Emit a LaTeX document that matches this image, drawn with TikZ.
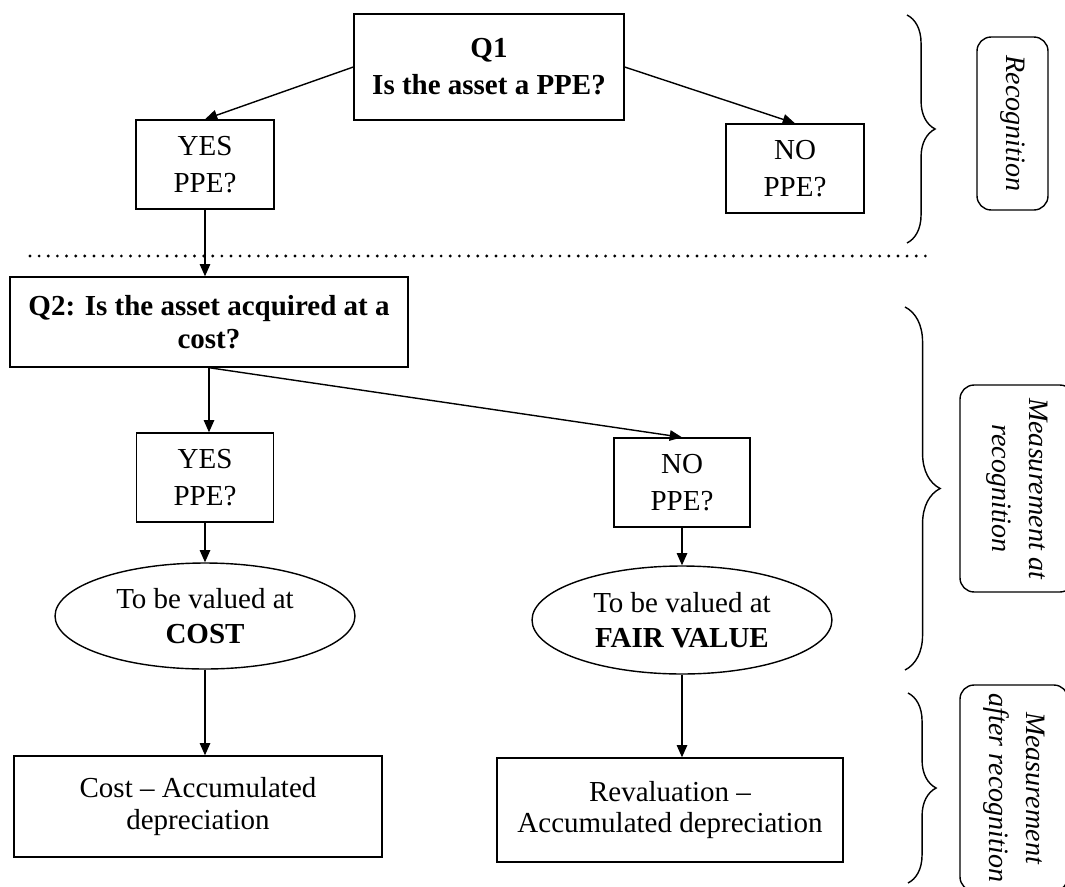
\documentclass[tikz,border=0pt]{standalone}
\usepackage{fontspec}
\setmainfont{Liberation Serif}
\usetikzlibrary{arrows.meta,positioning,shapes.geometric,decorations.pathreplacing,calc}

\begin{document}
\begin{tikzpicture}[
  x=0.02cm, y=-0.02cm,
  box/.style={draw, line width=0.8pt, align=center, inner sep=0pt, font=\fontsize{16.5}{21}\selectfont},
  qbox/.style={box, font=\fontsize{16.5}{19}\selectfont\bfseries},
  res/.style={box, font=\fontsize{16.5}{18}\selectfont},
  val/.style={draw, ellipse, line width=0.8pt, align=center, inner sep=0pt, font=\fontsize{16.5}{20}\selectfont},
  tag/.style={draw, rounded corners=8pt, line width=0.8pt, rotate=-90, align=center, inner sep=0pt, font=\fontsize{16}{21}\selectfont\itshape},
  arrow/.style={-{Triangle[length=7pt,width=6pt]}, line width=0.8pt},
  curly/.style={decorate, decoration={brace, amplitude=#1}, line width=0.8pt},
]
  \clip (0,0) rectangle (1065,886);

  % recognition
  \node[qbox, font=\fontsize{16.5}{21}\selectfont\bfseries, minimum width=5.4cm, minimum height=2.12cm] (q1) at (489,67) {Q1\\Is the asset a PPE?};
  \node[box, minimum width=2.76cm, minimum height=1.78cm] (yes1) at (205,164.5) {YES\\PPE?};
  \node[box, minimum width=2.76cm, minimum height=1.78cm] (no1) at (795,168.5) {NO\\PPE?};

  \draw[line width=1.8pt, line cap=round, dash pattern=on 0pt off 5.2pt] (30,256) -- (930,256);

  % measurement at recognition
  \node[qbox, minimum width=7.96cm, minimum height=1.8cm] (q2) at (209,322) {Q2: Is the asset acquired at a\\cost?};
  \node[box, minimum width=2.74cm, minimum height=1.78cm] (yes2) at (205,477.5) {YES\\PPE?};
  \node[box, minimum width=2.72cm, minimum height=1.78cm] (no2) at (682,482.5) {NO\\PPE?};
  \node[val, minimum width=6cm, minimum height=2.12cm] (ell1) at (205,616) {To be valued at\\\textbf{COST}};
  \node[val, minimum width=6cm, minimum height=2.16cm] (ell2) at (682,620) {To be valued at\\\textbf{FAIR VALUE}};

  % measurement after recognition
  \node[res, minimum width=7.36cm, minimum height=2.02cm] (res1) at (198,806.5) {Cost -- Accumulated\\depreciation};
  \node[res, minimum width=6.92cm, minimum height=2.08cm] (res2) at (670,810) {Revaluation --\\Accumulated depreciation};

  \draw[arrow] (q1.west) -- (yes1.north);
  \draw[arrow] (q1.east) -- (no1.north);
  \draw[arrow] (yes1.south) -- (yes1.south |- q2.north);
  \draw[arrow] (q2.south) -- (q2.south |- yes2.north);
  \draw[arrow] (q2.south) -- (no2.north);
  \draw[arrow] (yes2.south) -- (ell1.north);
  \draw[arrow] (no2.south) -- (ell2.north);
  \draw[arrow] (ell1.south) -- (ell1.south |- res1.north);
  \draw[arrow] (ell2.south) -- (ell2.south |- res2.north);

  % braces and stage tags
  \draw[curly=16pt] (907,15) -- (907,243);
  \draw[curly=20pt] (905,307) -- (905,670);
  \draw[curly=16pt] (908,693) -- (908,883);
  \node[tag, minimum width=3.46cm, minimum height=1.42cm] (rec) at (1012.5,123.5) {Recognition};
  \node[tag, minimum width=4.14cm, minimum height=2.28cm] (mar) at (1017,488.5) {Measurement at\\recognition};
  \node[tag, minimum width=4.12cm, minimum height=2.16cm] (maf) at (1014,788) {Measurement\\after recognition};
\end{tikzpicture}
\end{document}
